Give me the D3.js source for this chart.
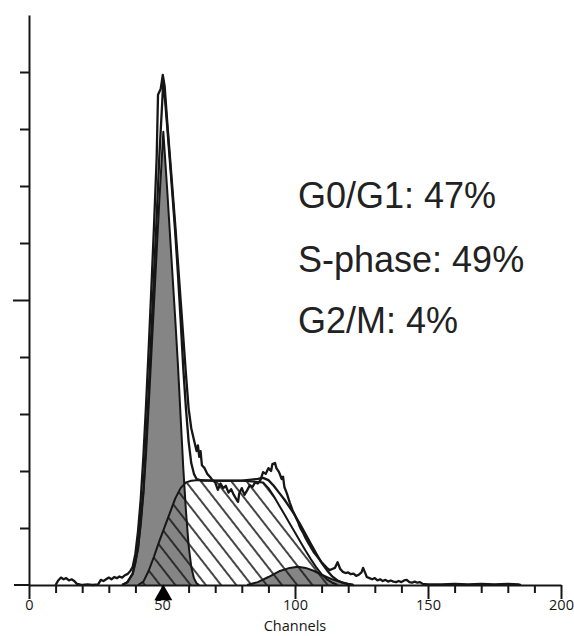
<!DOCTYPE html>
<html>
<head>
<meta charset="utf-8">
<script src="https://cdn.jsdelivr.net/npm/d3@7"></script>
<style>
  html, body { margin: 0; padding: 0; background: #fff; }
  svg { display: block; }
</style>
</head>
<body>
<svg id="histogram" width="574" height="636"></svg>
<script>
// measured DNA histogram, [channel, count]
const rawHist = [
  [10, 0], [11, 0.08], [12, 0.13], [13, 0.1], [14, 0.12], [15, 0.08], [16, 0.1], [17, 0.07],
  [18, 0.02], [19, 0.01], [20, 0], [22, 0.01], [24, 0], [26, 0.01], [27, 0.09], [28, 0.07],
  [29, 0.1], [30, 0.13], [31, 0.1], [32, 0.14], [33, 0.12], [34, 0.15], [35, 0.13], [36, 0.17],
  [37, 0.19], [38, 0.24], [39, 0.32], [40, 0.55], [41, 0.95], [42, 1.5], [43, 2.25], [44, 3.15],
  [45, 4.15], [46, 5.2], [47, 6.3], [48, 7.5], [48.5, 8.6], [49.5, 8.7], [50.3, 8.95], [51, 8.75],
  [52, 8.1], [53, 7.5], [54, 6.9], [55, 6.3], [56, 5.65], [57, 5.0], [58, 4.35], [59, 3.7],
  [60, 3.1], [61, 2.75], [62, 2.55], [63, 2.35], [63.5, 2.45], [64, 2.25], [64.5, 2.35], [65, 2.1],
  [66, 2.05], [67, 1.95], [68, 1.9], [69, 1.84], [70, 1.8], [71, 1.67], [72, 1.78], [73, 1.7],
  [74, 1.74], [75, 1.62], [76, 1.68], [77, 1.58], [78, 1.5], [78.6, 1.46], [79, 1.6], [80, 1.7],
  [81, 1.58], [82, 1.66], [83, 1.75], [84, 1.72], [85, 1.8], [86, 1.78], [87, 1.84], [88, 1.98],
  [89, 1.95], [90, 2.05], [91, 2.0], [91.5, 2.12], [92.5, 2.14], [93, 2.05], [94, 1.98], [95, 1.86],
  [95.5, 1.9], [96, 1.72], [97, 1.6], [98, 1.45], [99, 1.32], [100, 1.22], [101, 1.12], [102, 1.0],
  [103, 0.92], [104, 0.82], [105, 0.74], [106, 0.66], [107, 0.58], [108, 0.52], [109, 0.46], [110, 0.4],
  [111, 0.35], [112, 0.3], [113, 0.26], [114, 0.28], [115, 0.3], [116, 0.4], [117, 0.28], [118, 0.23],
  [119, 0.21], [120, 0.22], [121, 0.19], [122, 0.2], [123, 0.16], [124, 0.18], [125, 0.22], [125.6, 0.3],
  [126.5, 0.2], [127, 0.14], [128, 0.12], [129, 0.1], [130, 0.12], [131, 0.08], [132, 0.1], [133, 0.07],
  [134, 0.09], [135, 0.06], [136, 0.08], [137, 0.06], [138, 0.05], [139, 0.07], [140, 0.05], [141, 0.08],
  [142, 0.09], [143, 0.05], [144, 0.04], [145, 0.06], [146, 0.04], [147, 0.05], [148, 0.02], [150, 0.01],
  [155, 0.01], [160, 0.02], [165, 0.01], [170, 0.02], [175, 0.01], [180, 0.02], [184, 0.01], [185, 0]
];

// fitted model (sum of phases)
const fitCurve = [
  [35, 0], [37, 0.05], [39, 0.2], [41, 0.65], [43, 1.66], [45, 3.4], [47, 5.45], [48, 6.45],
  [49, 7.52], [50, 8.4], [50.5, 8.85], [51, 8.6], [52, 8.02], [53, 7.42], [54, 6.8], [55, 6.17],
  [56, 5.45], [57, 4.65], [58, 3.8], [59, 3.1], [60, 2.52], [61, 2.14], [62, 1.95], [63, 1.86],
  [65, 1.83], [70, 1.83], [80, 1.83], [86, 1.86], [88, 1.88], [90, 1.84], [92, 1.74], [94, 1.62],
  [96, 1.5], [98, 1.36], [100, 1.22], [102, 1.06], [104, 0.89], [106, 0.72], [108, 0.55], [110, 0.39],
  [112, 0.26], [114, 0.15], [116, 0.08], [118, 0.04], [120, 0.015], [122, 0]
];

// G0/G1 peak
const g1Curve = [
  [35, 0], [37, 0.05], [39, 0.2], [40, 0.38], [41, 0.65], [42, 1.05], [43, 1.6], [44, 2.3],
  [45, 3.15], [46, 4.05], [47, 4.95], [48, 5.85], [49, 6.75], [50, 7.55], [50.5, 7.95], [51, 7.6],
  [52, 6.9], [53, 6.15], [54, 5.4], [55, 4.65], [56, 3.85], [57, 2.95], [58, 2.05], [59, 1.3],
  [60, 0.7], [61, 0.32], [62, 0.12], [63, 0.03], [64, 0]
];

// S-phase
const sCurve = [
  [41, 0], [43, 0.06], [45, 0.25], [47, 0.5], [49, 0.77], [51, 1.02], [53, 1.27], [55, 1.52],
  [57, 1.7], [59, 1.8], [61, 1.83], [64, 1.84], [70, 1.83], [80, 1.83], [88, 1.8], [90, 1.7],
  [92, 1.56], [94, 1.4], [96, 1.24], [98, 1.08], [100, 0.92], [102, 0.76], [104, 0.6], [106, 0.45],
  [108, 0.31], [110, 0.19], [112, 0.1], [114, 0.04], [116, 0]
];

// G2/M peak
const g2Curve = [
  [82, 0], [86, 0.05], [90, 0.14], [94, 0.24], [98, 0.3], [101, 0.32], [104, 0.3], [107, 0.25],
  [110, 0.18], [114, 0.1], [118, 0.04], [122, 0]
];

const xMajorTicks = [0, 50, 100, 150, 200];
const xMinorTicks = [10, 20, 30, 40, 60, 70, 80, 90, 110, 120, 130, 140, 160, 170, 180, 190];
const yMajorTicks = [5];
const yMinorTicks = [1, 2, 3, 4, 6, 7, 8, 9];
const phaseLabels = ["G0/G1: 47%", "S-phase: 49%", "G2/M: 4%"];
const peakMarker = 50.5;

const svg = d3.select("#histogram");
const ink = "#161616";
const grey = "#858585";

const x = d3.scaleLinear().domain([0, 200]).range([29, 561]);
const y = d3.scaleLinear().domain([0, 10]).range([585, 15]);

// diagonal hatch for S-phase
const defs = svg.append("defs");
const hatch = defs.append("pattern")
  .attr("id", "hatch")
  .attr("patternUnits", "userSpaceOnUse")
  .attr("width", 12)
  .attr("height", 12)
  .attr("patternTransform", "rotate(-38)");
hatch.append("line")
  .attr("x1", 6).attr("y1", -1)
  .attr("x2", 6).attr("y2", 13)
  .attr("stroke", ink)
  .attr("stroke-width", 1.6);

const area = d3.area()
  .x((d) => x(d[0]))
  .y0(y(0))
  .y1((d) => y(d[1]));

const line = d3.line()
  .x((d) => x(d[0]))
  .y((d) => y(d[1]));

// fills
svg.append("path").datum(g1Curve).attr("d", area).attr("fill", grey);
svg.append("path").datum(g2Curve).attr("d", area).attr("fill", grey);
svg.append("path").datum(sCurve).attr("d", area).attr("fill", "url(#hatch)");

// outlines
[g1Curve, g2Curve, sCurve].forEach((c) => {
  svg.append("path").datum(c)
    .attr("d", line)
    .attr("fill", "none")
    .attr("stroke", ink)
    .attr("stroke-width", 2)
    .attr("stroke-linejoin", "round");
});

svg.append("path").datum(fitCurve)
  .attr("d", line)
  .attr("fill", "none")
  .attr("stroke", ink)
  .attr("stroke-width", 2.3)
  .attr("stroke-linejoin", "round");

svg.append("path").datum(rawHist)
  .attr("d", line)
  .attr("fill", "none")
  .attr("stroke", ink)
  .attr("stroke-width", 2.3)
  .attr("stroke-linejoin", "round");

// x axis
const xAxisG = svg.append("g").attr("transform", `translate(0, ${y(0)})`);
xAxisG.append("g")
  .call(d3.axisBottom(x).tickValues(xMinorTicks).tickSize(8).tickFormat("").tickSizeOuter(0))
  .call((g) => g.select(".domain").remove());
xAxisG.append("g")
  .call(d3.axisBottom(x).tickValues(xMajorTicks).tickSize(14).tickPadding(1).tickSizeOuter(0))
  .attr("font-family", "'Open Sans', sans-serif")
  .attr("font-size", 14.5);
xAxisG.append("line")
  .attr("x1", x(0) - 15).attr("x2", x(0))
  .attr("y1", 0).attr("y2", 0);

// y axis
const yAxisG = svg.append("g").attr("transform", `translate(${x(0)}, 0)`);
yAxisG.append("g")
  .call(d3.axisLeft(y).tickValues(yMinorTicks).tickSize(9).tickFormat("").tickSizeOuter(0));
yAxisG.append("g")
  .call(d3.axisLeft(y).tickValues(yMajorTicks).tickSize(16).tickFormat("").tickSizeOuter(0))
  .call((g) => g.select(".domain").remove());

svg.selectAll(".tick line, .domain, g > line")
  .attr("stroke", ink)
  .attr("stroke-width", 2);
svg.selectAll(".tick text").attr("fill", ink);

svg.append("text")
  .attr("x", x(100))
  .attr("y", 630.5)
  .attr("text-anchor", "middle")
  .attr("font-family", "'Open Sans', sans-serif")
  .attr("font-size", 14.5)
  .attr("fill", ink)
  .text("Channels");

// G1 peak marker
svg.append("path")
  .attr("d", d3.symbol().type(d3.symbolTriangle).size(140))
  .attr("transform", `translate(${x(peakMarker)}, ${y(0) + 10})`)
  .attr("fill", "#000");

// phase percentages
svg.append("g")
  .selectAll("text")
  .data(phaseLabels)
  .join("text")
  .attr("x", 298)
  .attr("y", (d, i) => [208, 272, 333][i])
  .attr("font-family", "'Liberation Sans', Arial, sans-serif")
  .attr("font-size", 36)
  .attr("fill", "#222")
  .text((d) => d);
</script>
</body>
</html>
